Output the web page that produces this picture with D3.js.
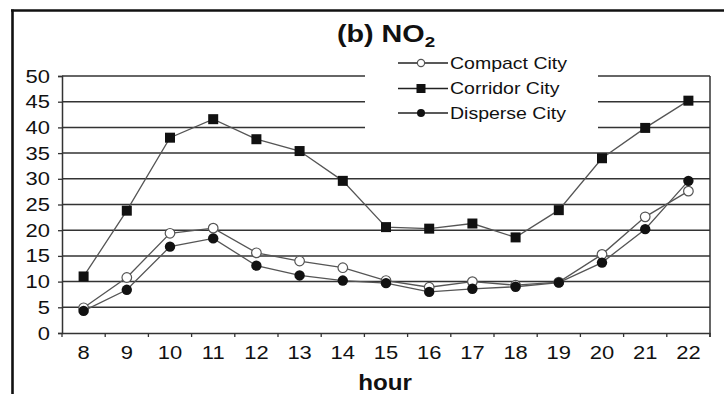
<!DOCTYPE html>
<html>
<head>
<meta charset="utf-8">
<script src="https://cdn.jsdelivr.net/npm/d3@7"></script>
<style>
  body { margin: 0; background: #fff; }
  svg { display: block; font-family: "Liberation Sans", Arial, sans-serif; }
</style>
</head>
<body>
<svg id="chart" width="724" height="394"></svg>
<script>
/* ============================
   Data
============================ */

const hours = ["8", "9", "10", "11", "12", "13", "14", "15", "16", "17", "18", "19", "20", "21", "22"];

const compactCity  = [4.9, 10.8, 19.4, 20.4, 15.6, 14.0, 12.7, 10.2, 8.9, 10.0, 9.3, 9.9, 15.3, 22.6, 27.6];
const corridorCity = [11.0, 23.8, 38.0, 41.6, 37.7, 35.4, 29.6, 20.6, 20.3, 21.3, 18.6, 23.9, 34.0, 39.9, 45.2];
const disperseCity = [4.3, 8.4, 16.8, 18.4, 13.1, 11.2, 10.2, 9.7, 8.0, 8.6, 9.0, 9.8, 13.7, 20.2, 29.6];

const yTicks = [0, 5, 10, 15, 20, 25, 30, 35, 40, 45, 50];

const seriesNames = ["Compact City", "Corridor City", "Disperse City"];

/* ============================
   Setup
============================ */

const svg = d3.select("#chart");
const sx = 1.22; // text in the source looks stretched sideways

const x = d3.scaleBand().domain(hours).range([62, 710]);
const y = d3.scaleLinear().domain([0, 50]).range([333, 76]);
const cx = h => x(h) + x.bandwidth() / 2;

function stretchedText(g, px, py, txt, size, anchor, weight, scale) {
  return g.append("text")
    .attr("transform", `translate(${px},${py}) scale(${scale || sx},1)`)
    .attr("text-anchor", anchor || "start")
    .attr("font-size", size)
    .attr("font-weight", weight || "normal")
    .attr("fill", "#111")
    .text(txt);
}

// outer frame (top + left only visible)
svg.append("line")
  .attr("x1", 11).attr("x2", 724).attr("y1", 10.5).attr("y2", 10.5)
  .attr("stroke", "#111").attr("stroke-width", 2.6);
svg.append("line")
  .attr("x1", 12.5).attr("x2", 12.5).attr("y1", 9.5).attr("y2", 394)
  .attr("stroke", "#111").attr("stroke-width", 2.6);

/* ============================
   Grid + axes
============================ */

svg.append("g")
  .selectAll("line")
  .data(yTicks.filter(d => d > 0))
  .enter()
  .append("line")
  .attr("x1", 62).attr("x2", 710)
  .attr("y1", d => y(d)).attr("y2", d => y(d))
  .attr("stroke", "#333").attr("stroke-width", 1.5);

// right edge of plot
svg.append("line")
  .attr("x1", 710).attr("x2", 710).attr("y1", y(50)).attr("y2", y(0) + 4)
  .attr("stroke", "#333").attr("stroke-width", 1.5);

// y axis
const yAxis = svg.append("g")
  .attr("transform", "translate(62,0)")
  .call(d3.axisLeft(y).tickValues(yTicks).tickSize(4).tickFormat(""));
yAxis.select(".domain").attr("stroke", "#333").attr("stroke-width", 1.5);
yAxis.selectAll(".tick line").attr("stroke", "#333").attr("stroke-width", 1.3);

yTicks.forEach(v => stretchedText(svg, 50, y(v) + 6.5, v, 18, "end"));

// x axis: ticks sit between categories
const xAxis = svg.append("g")
  .attr("transform", `translate(0,${y(0)})`)
  .call(d3.axisBottom(x).tickSize(0).tickFormat(""));
xAxis.select(".domain").attr("stroke", "#333").attr("stroke-width", 1.5);

const edges = hours.map(h => x(h)).concat([x.range()[1]]);
svg.append("g")
  .selectAll("line")
  .data(edges)
  .enter()
  .append("line")
  .attr("x1", d => d).attr("x2", d => d)
  .attr("y1", y(0)).attr("y2", y(0) + 4)
  .attr("stroke", "#333").attr("stroke-width", 1.3);

hours.forEach(h => stretchedText(svg, cx(h), 359, h, 18, "middle"));

stretchedText(svg, 385, 390, "hour", 22, "middle", "bold", 1.1);

/* ============================
   Series
============================ */

const line = d3.line()
  .x((d, i) => cx(hours[i]))
  .y(d => y(d));

const lineColor = "#555";

[compactCity, corridorCity, disperseCity].forEach(vals => {
  svg.append("path")
    .datum(vals)
    .attr("d", line)
    .attr("fill", "none")
    .attr("stroke", lineColor)
    .attr("stroke-width", 1.3);
});

function drawMarker(g, kind, px, py, small) {
  const r = small ? 3.6 : 4.8;
  if (kind === 0) {
    g.append("circle").attr("cx", px).attr("cy", py).attr("r", r)
      .attr("fill", "#fff").attr("stroke", "#555").attr("stroke-width", 1.2);
  } else if (kind === 1) {
    const s = small ? 9 : 10;
    g.append("rect").attr("x", px - s / 2).attr("y", py - s / 2)
      .attr("width", s).attr("height", s).attr("fill", "#111");
  } else {
    g.append("circle").attr("cx", px).attr("cy", py).attr("r", r + 0.4)
      .attr("fill", "#111");
  }
}

const markers = svg.append("g");
[compactCity, corridorCity, disperseCity].forEach((vals, k) => {
  vals.forEach((v, i) => drawMarker(markers, k, cx(hours[i]), y(v)));
});

/* ============================
   Title + legend
============================ */

const title = svg.append("text")
  .attr("transform", "translate(386,42) scale(1.25,1)")
  .attr("text-anchor", "middle")
  .attr("font-size", 23)
  .attr("font-weight", "bold")
  .attr("fill", "#111");
title.append("tspan").text("(b) NO");
title.append("tspan").attr("font-size", 15).attr("dy", 5).text("2");

const legend = svg.append("g");
legend.append("rect")
  .attr("x", 365).attr("y", 48).attr("width", 233).attr("height", 88)
  .attr("fill", "#fff");

const legendY = [63, 88.5, 113];
seriesNames.forEach((name, k) => {
  const ly = legendY[k];
  legend.append("line")
    .attr("x1", 398).attr("x2", 448).attr("y1", ly).attr("y2", ly)
    .attr("stroke", "#222").attr("stroke-width", 1.3);
  drawMarker(legend, k, 421, ly, true);
  stretchedText(legend, 450, ly + 5.5, name, 16, "start");
});
</script>
</body>
</html>
